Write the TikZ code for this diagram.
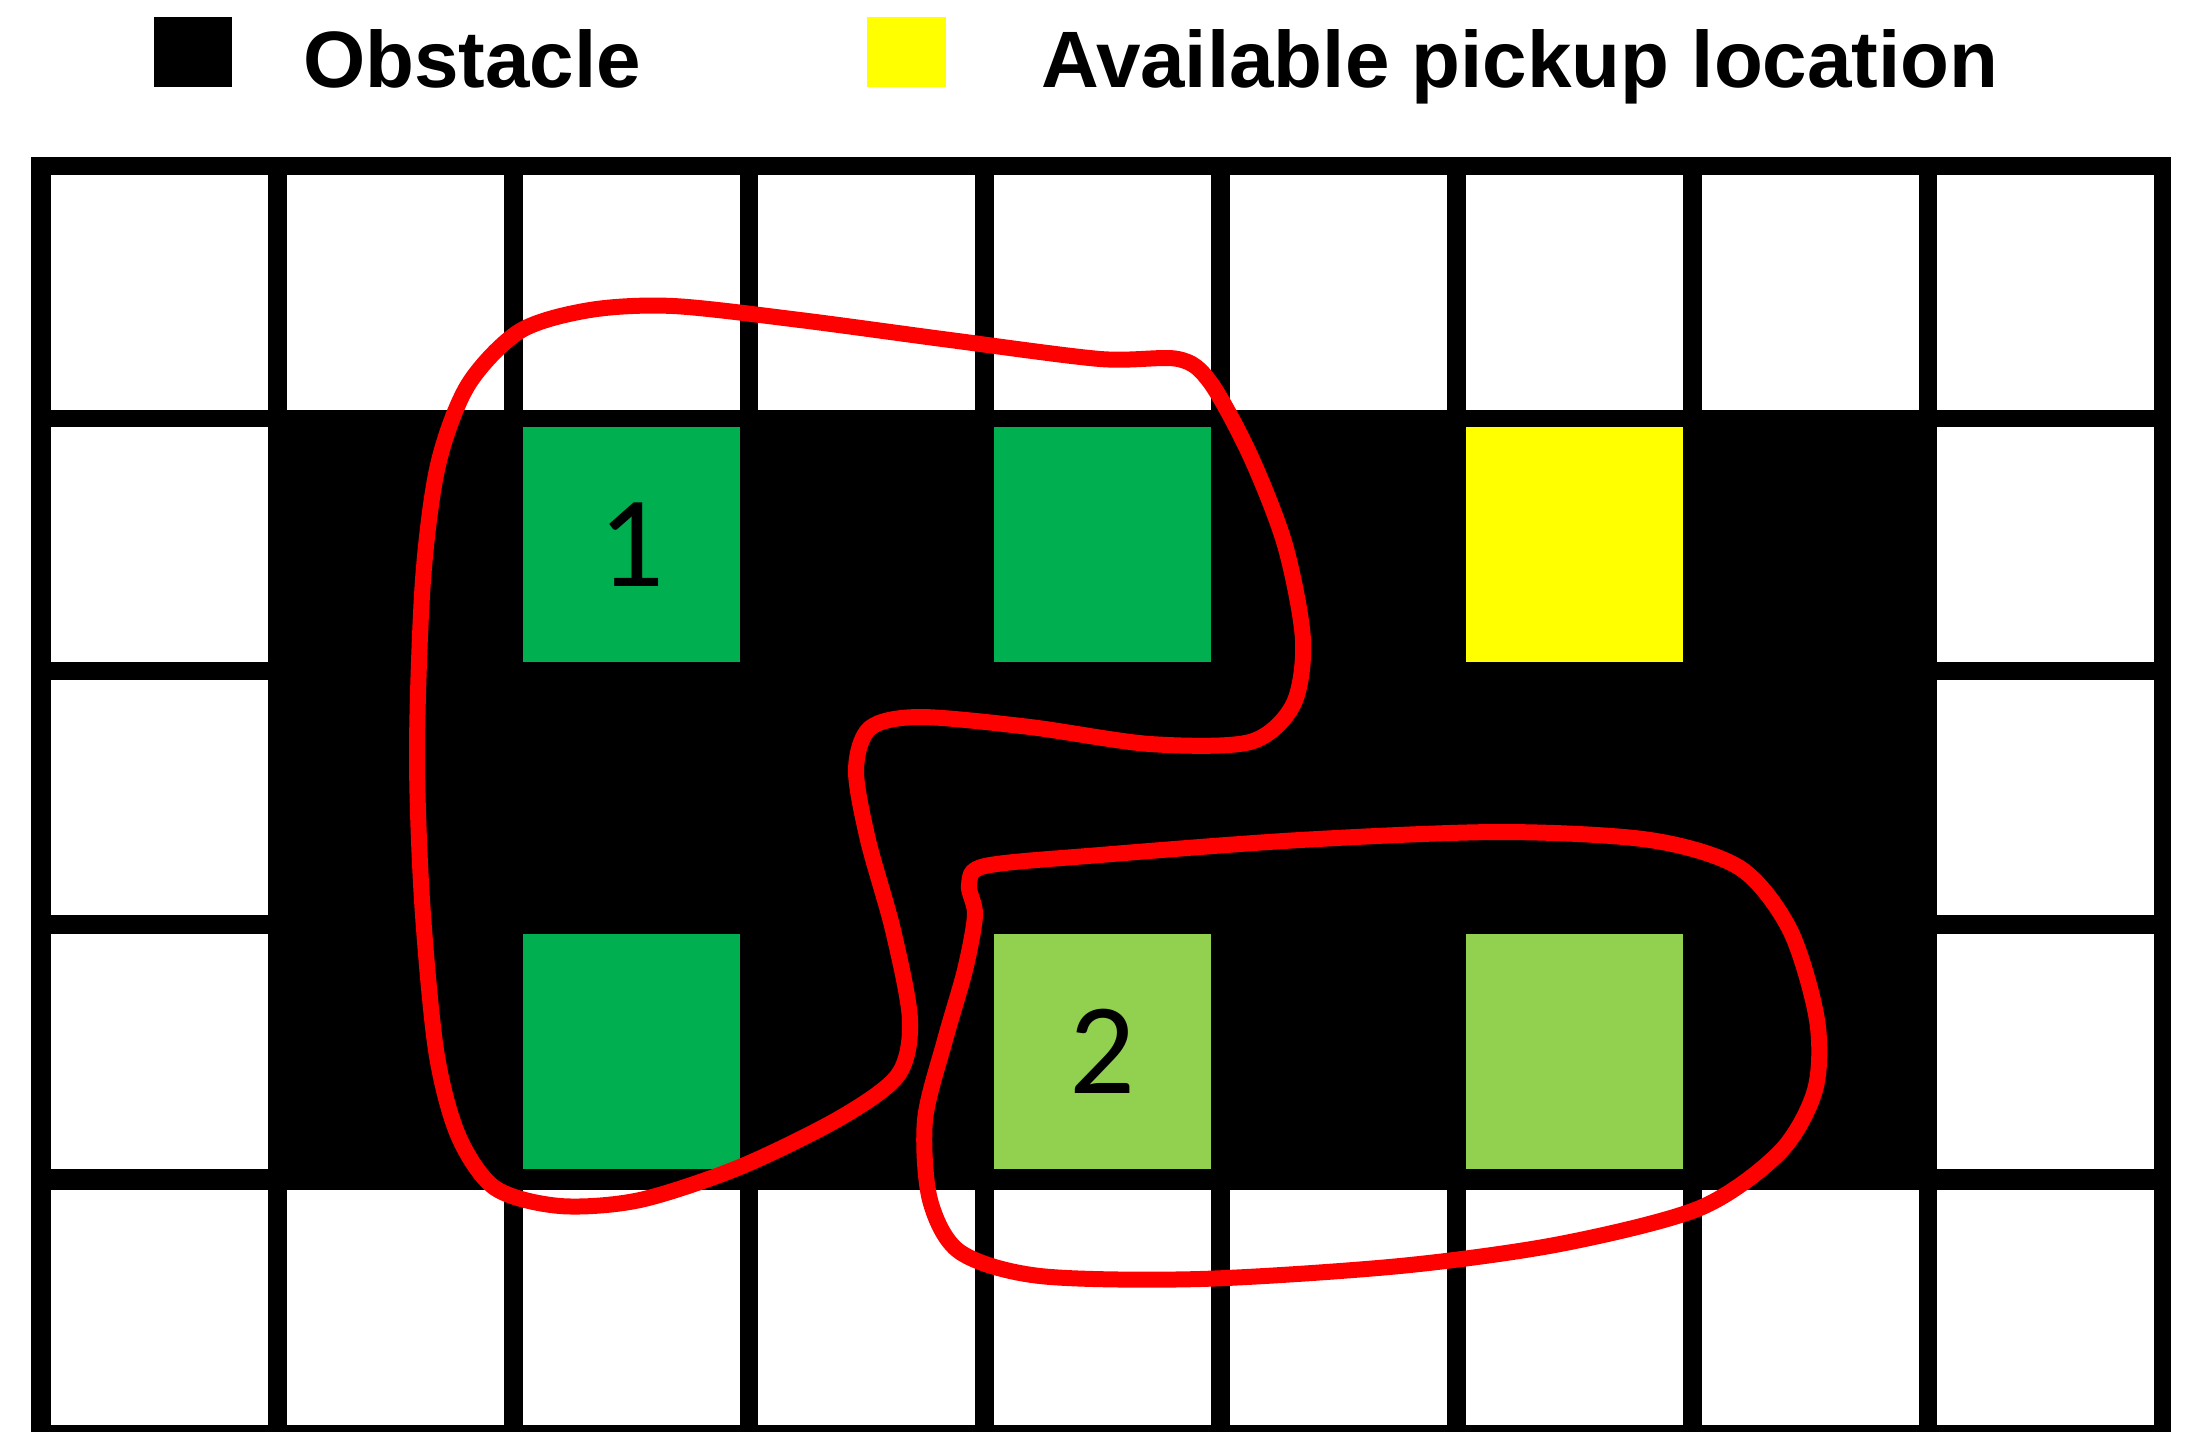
\documentclass[tikz,border=0pt]{standalone}
\usepackage{fontspec}
\setmainfont{Liberation Sans}
\newfontfamily\numfont{Carlito}
\definecolor{gdark}{HTML}{00B050}
\definecolor{glight}{HTML}{92D050}
\definecolor{ylw}{HTML}{FFFF00}
\begin{document}
\begin{tikzpicture}[x=1pt,y=-1pt,
  cellbox/.style={draw=none,inner sep=0pt,minimum width=217pt,minimum height=235pt,
    font=\numfont\fontsize{130}{130}\selectfont},
  legtxt/.style={inner sep=0pt,anchor=base west,font=\bfseries\fontsize{80}{90}\selectfont},
  loop/.style={draw=red,line width=16pt,line join=round}]
\useasboundingbox (0,0) rectangle (2192,1432);
\fill[white] (0,0) rectangle (2192,1432);
% legend
\node[fill=black,inner sep=0pt,minimum width=78pt,minimum height=70pt,anchor=north west] (obsbox) at (154,17) {};
\node[legtxt] (obstxt) at (303,87) {Obstacle};
\node[fill=ylw,inner sep=0pt,minimum width=79pt,minimum height=70pt,anchor=north west] (ylwbox) at (867,17) {};
\node[legtxt] (ylwtxt) at (1041,87) {Available pickup location};
% grid background
\fill[black] (31,157) rectangle (2171,1432);
% white cells
\foreach \c in {0,...,8}{
  \foreach \yy in {175,1190}{
    \fill[white] ({51+235.8*\c},\yy) rectangle ++(217,235);
  }
}
\foreach \c in {0,8}{
  \foreach \yy in {427,680,934}{
    \fill[white] ({51+235.8*\c},\yy) rectangle ++(217,235);
  }
}
% coloured cells (centres)
\node[cellbox,fill=gdark]  (g1) at ({51+235.8*2+108.5},{427+117.5}) {1};
\node[cellbox,fill=gdark]  (g2) at ({51+235.8*4+108.5},{427+117.5}) {};
\node[cellbox,fill=ylw]    (y1) at ({51+235.8*6+108.5},{427+117.5}) {};
\node[cellbox,fill=gdark]  (g3) at ({51+235.8*2+108.5},{934+117.5}) {};
\node[cellbox,fill=glight] (l1) at ({51+235.8*4+108.5},{934+117.5}) {2};
\node[cellbox,fill=glight] (l2) at ({51+235.8*6+108.5},{934+117.5}) {};
% red loops
\draw[loop] plot[smooth cycle,tension=0.5] coordinates {
 (673,306) (800,320) (950,340) (1100,359) (1178,359) (1210,382) (1250,455)
 (1285,545) (1303,640) (1293,705) (1250,742) (1150,744) (1030,727) (920,717)
 (870,728) (856,770) (868,840) (893,930) (910,1020) (898,1075) (840,1118)
 (740,1167) (640,1200) (560,1206) (495,1188) (458,1135) (436,1050) (422,900)
 (417,750) (423,580) (438,465) (468,385) (520,331) (590,310)};
\draw[loop] plot[smooth cycle,tension=0.5] coordinates {
 (969,885) (985,866) (1100,855) (1300,840) (1500,832) (1650,840) (1740,868)
 (1790,930) (1817,1020) (1815,1090) (1780,1152) (1700,1208) (1560,1244)
 (1400,1266) (1200,1279) (1040,1276) (960,1252) (930,1200) (925,1120)
 (945,1040) (965,970) (975,915)};
\end{tikzpicture}
\end{document}
